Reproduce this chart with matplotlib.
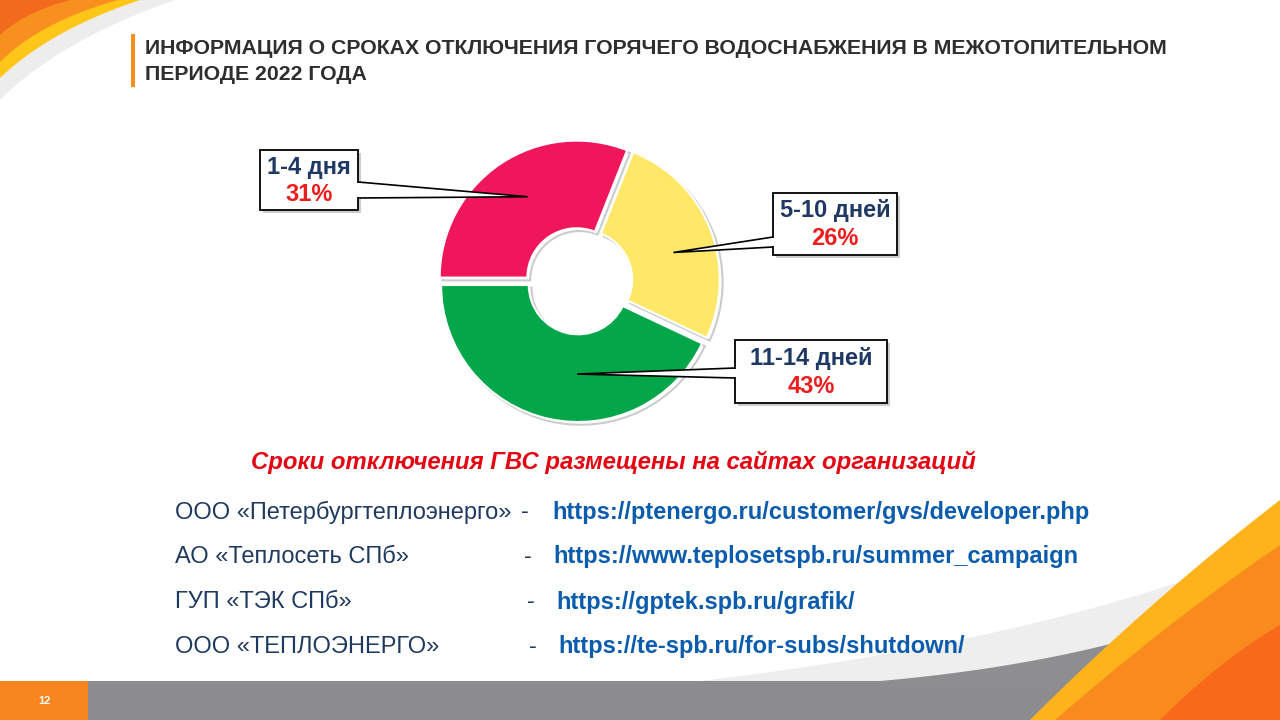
import matplotlib
matplotlib.use("Agg")
import matplotlib.pyplot as plt
import matplotlib.patheffects as pe
from matplotlib.patches import Rectangle, Polygon
import numpy as np

plt.rcParams['font.family'] = ['Liberation Sans', 'DejaVu Sans']

# данные диаграммы
categories = ["1-4 дня", "5-10 дней", "11-14 дней"]
shares = [31, 26, 43]
colors = ["#F0165C", "#FFE868", "#03A74A"]

title_lines = ["ИНФОРМАЦИЯ О СРОКАХ ОТКЛЮЧЕНИЯ ГОРЯЧЕГО ВОДОСНАБЖЕНИЯ В МЕЖОТОПИТЕЛЬНОМ",
               "ПЕРИОДЕ 2022 ГОДА"]
note = "Сроки отключения ГВС размещены на сайтах организаций"
orgs = ["ООО «Петербургтеплоэнерго»", "АО «Теплосеть СПб»", "ГУП «ТЭК СПб»", "ООО «ТЕПЛОЭНЕРГО»"]
urls = ["https://ptenergo.ru/customer/gvs/developer.php",
        "https://www.teplosetspb.ru/summer_campaign",
        "https://gptek.spb.ru/grafik/",
        "https://te-spb.ru/for-subs/shutdown/"]
page = "12"

W, H = 1280, 720
fig = plt.figure(figsize=(12.8, 7.2), dpi=100)

# фон и оформление
bg = fig.add_axes([0, 0, 1, 1], zorder=0)
bg.set_xlim(0, W)
bg.set_ylim(H, 0)
bg.axis("off")


def curve(p0, p1, p2, n=60):
    t = np.linspace(0, 1, n)[:, None]
    p0, p1, p2 = map(np.array, (p0, p1, p2))
    return (1 - t) ** 2 * p0 + 2 * (1 - t) * t * p1 + t ** 2 * p2


def corner(p0, p1, p2, close, color):
    c = curve(p0, p1, p2)
    bg.add_patch(Polygon(np.vstack([c, [close]]), closed=True, fc=color, ec="none"))


# верхний левый угол
corner((0, 100), (60, 40), (175, 0), (0, 0), "#EDEDED")
corner((0, 78), (50, 30), (140, 0), (0, 0), "#FFC61A")
corner((0, 62), (40, 22), (118, 0), (0, 0), "#F7901E")
corner((0, 35), (25, 12), (70, 0), (0, 0), "#F26B1D")

# нижний правый угол
corner((700, 681), (1050, 640), (1280, 545), (1280, 681), "#EEEEEE")
corner((880, 681), (1120, 660), (1280, 585), (1280, 681), "#8E8E90")

# нижняя серая полоса
bg.add_patch(Rectangle((0, 681), W, 39, fc="#8D8D8F", ec="none"))

corner((1030, 720), (1150, 600), (1280, 500), (1280, 720), "#FFB31A")
corner((1055, 720), (1170, 620), (1280, 545), (1280, 720), "#F98A1E")
corner((1160, 720), (1220, 660), (1280, 625), (1280, 720), "#F86A1A")

bg.add_patch(Rectangle((0, 681), 88, 39, fc="#F7861E", ec="none"))
bg.text(44, 701, page, color="white", fontsize=8, fontweight="bold", ha="center", va="center")

# заголовок
bg.add_patch(Rectangle((131, 34), 4, 53, fc="#F7901E", ec="none"))
for i, line in enumerate(title_lines):
    bg.text(145, 48 + 27 * i, line, fontsize=15.3, fontweight="bold", color="#2E2E2E",
            ha="left", va="center")

# подпись и ссылки
bg.text(613, 462, note, fontsize=17.2, fontweight="bold", style="italic", color="#E30613",
        ha="center", va="center")
dash_x = [525, 528, 531, 533]
url_x = [552, 553, 556, 558]
for i in range(len(orgs)):
    y = 512 + 45 * i
    bg.text(175, y, orgs[i], fontsize=17, color="#1F3A5F", ha="left", va="center")
    bg.text(dash_x[i], y, "-", fontsize=17, color="#1F3A5F", ha="center", va="center")
    bg.text(url_x[i], y, urls[i], fontsize=17, fontweight="bold", color="#0B5CAD",
            ha="left", va="center")

# кольцевая диаграмма
cx, cy, r = 579, 281, 137
half = r * 1.08
ax = fig.add_axes([(cx - half) / W, (H - cy - half) / H, 2 * half / W, 2 * half / H], zorder=1)
wedges, _ = ax.pie(shares, colors=colors, startangle=180, counterclock=False,
                   radius=1, explode=[0.03] * 3,
                   wedgeprops=dict(width=0.64, edgecolor="white", linewidth=1.5))
for w in wedges:
    w.set_path_effects([pe.SimpleLineShadow(offset=(2, -2), shadow_color="#999999", alpha=0.5),
                        pe.Normal()])
ax.set_xlim(-1.08, 1.08)
ax.set_ylim(-1.08, 1.08)
ax.set_aspect("equal")
ax.axis("off")

# выноски
fg = fig.add_axes([0, 0, 1, 1], zorder=2)
fg.set_xlim(0, W)
fg.set_ylim(H, 0)
fg.axis("off")
fg.patch.set_alpha(0)

boxes = [(260, 150, 98, 60), (773, 193, 124, 62), (735, 340, 152, 63)]
roots = [((358, 182), (358, 198)), ((773, 237), (773, 247)), ((735, 368), (735, 378))]
tip_r = [0.69, 0.69, 0.65]
tip_shift = [-3, -5, 12]
to_fg = fg.transData.inverted()
for i, w in enumerate(wedges):
    ang = np.deg2rad((w.theta1 + w.theta2) / 2 + tip_shift[i])
    x0, y0 = w.center
    tip = to_fg.transform(ax.transData.transform((x0 + tip_r[i] * np.cos(ang),
                                                   y0 + tip_r[i] * np.sin(ang))))
    bx, by, bw, bh = boxes[i]
    fg.add_patch(Rectangle((bx + 3, by + 3), bw, bh, fc="#AAAAAA", ec="none", alpha=0.6))
    fg.add_patch(Polygon([roots[i][0], tuple(tip), roots[i][1]], closed=True,
                         fc="white", ec="black", lw=1.2, joinstyle="miter"))
    fg.add_patch(Rectangle((bx, by), bw, bh, fc="white", ec="black", lw=1.3))
    # убрать линию рамки в месте выноски
    fg.plot([roots[i][0][0], roots[i][1][0]], [roots[i][0][1] + 1, roots[i][1][1] - 1],
            color="white", lw=1.6, solid_capstyle="butt")
    fg.text(bx + bw / 2, by + bh * 0.29, categories[i], fontsize=17, fontweight="bold",
            color="#1F3864", ha="center", va="center")
    fg.text(bx + bw / 2, by + bh * 0.74, f"{shares[i]}%", fontsize=17, fontweight="bold",
            color="#EE1C1C", ha="center", va="center")

fig.savefig("out.png", dpi=100)
